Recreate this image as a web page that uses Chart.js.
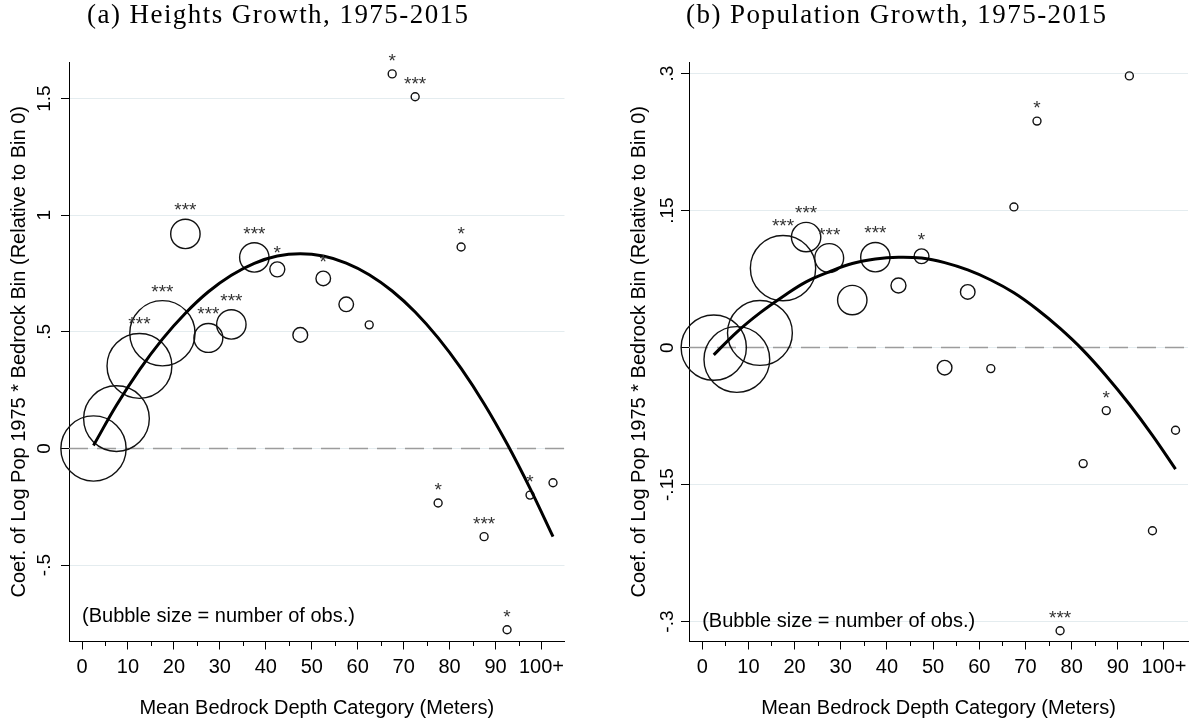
<!DOCTYPE html>
<html lang="en">
<head>
<meta charset="UTF-8">
<title>Bedrock Depth and Growth</title>
<style>
  body { margin: 0; background: #fff; width: 1191px; height: 723px; position: relative; overflow: hidden; }
  .panel { position: absolute; top: 0; height: 723px; }
  .title { position: absolute; top: 1px; font-family: "Liberation Serif", serif; font-size: 27px; line-height: 27px;
           letter-spacing: 1.45px; white-space: nowrap; color: #000; }
</style>
</head>
<body>
<div class="panel" style="left:0;width:600px"><canvas id="heightsChart" width="600" height="723"></canvas></div>
<div class="panel" style="left:600px;width:591px"><canvas id="popChart" width="591" height="723"></canvas></div>
<div class="title" style="left:87px">(a) Heights Growth, 1975-2015</div>
<div class="title" style="left:686px">(b) Population Growth, 1975-2015</div>

<script src="https://cdn.jsdelivr.net/npm/chart.js"></script>
<script>
// bedrock depth bins (bin centres, meters) and number of obs per bin
const bins = [2.5, 7.5, 12.5, 17.5, 22.5, 27.5, 32.5, 37.5, 42.5, 47.5, 52.5,
              57.5, 62.5, 67.5, 72.5, 77.5, 82.5, 87.5, 92.5, 97.5, 102.5];
const binObs = [740, 750, 730, 740, 150, 145, 150, 150, 39, 38, 37,
                37, 11, 11, 11, 11, 11, 11, 11, 11, 11];

const xTicks = [0, 10, 20, 30, 40, 50, 60, 70, 80, 90, 100];
const xTickLabels = ['0', '10', '20', '30', '40', '50', '60', '70', '80', '90', '100+'];
const xMinorTicks = [5, 15, 25, 35, 45, 55, 65, 75, 85, 95];

// (a) heights growth
const heightsCoef = [0, 0.128, 0.354, 0.494, 0.920, 0.474, 0.532, 0.819, 0.768, 0.487, 0.729,
                     0.618, 0.530, 1.606, 1.508, -0.234, 0.864, -0.378, -0.777, -0.200, -0.147];
const heightsStars = ['', '', '***', '***', '***', '***', '***', '***', '*', '', '*',
                      '', '', '*', '***', '*', '*', '***', '*', '*', ''];
const heightsFit = [0.013, 0.185, 0.337, 0.469, 0.580, 0.672, 0.743, 0.794, 0.825, 0.835, 0.825,
                    0.795, 0.745, 0.675, 0.585, 0.474, 0.343, 0.192, 0.020, -0.171, -0.378];
const heightsYTicks = [-0.5, 0, 0.5, 1, 1.5];
const heightsYLabels = ['-.5', '0', '.5', '1', '1.5'];

// (b) population growth
const popCoef = [0, -0.013, 0.016, 0.087, 0.121, 0.098, 0.052, 0.099, 0.068, 0.100, -0.022,
                 0.061, -0.023, 0.154, 0.248, -0.310, -0.127, -0.069, 0.2975, -0.2005, -0.0905];
const popStars = ['', '', '', '***', '***', '***', '', '***', '', '*', '',
                  '', '', '', '*', '***', '', '*', '', '', ''];
const popFit = [-0.008, 0.017, 0.038, 0.056, 0.072, 0.083, 0.092, 0.097, 0.099, 0.098, 0.093,
                0.085, 0.074, 0.060, 0.042, 0.021, -0.003, -0.031, -0.062, -0.096, -0.133];
const popYTicks = [-0.3, -0.15, 0, 0.15, 0.3];
const popYLabels = ['-.3', '-.15', '0', '.15', '.3'];

const noteText = '(Bubble size = number of obs.)';
const fontFamily = '"Liberation Sans", Arial, sans-serif';
Chart.defaults.font.family = fontFamily;

function bubbleRadius(n) {
    return 1.2 * Math.sqrt(n);
}

// zero line, significance stars, note text, minor ticks and x labels
const panelExtras = {
    id: 'panelExtras',
    beforeDatasetsDraw(chart) {
        const { ctx, chartArea: a, scales: { y } } = chart;
        const y0 = y.getPixelForValue(0);
        ctx.save();
        ctx.strokeStyle = '#9c9c9c';
        ctx.lineWidth = 1.5;
        ctx.setLineDash([19, 9]);
        ctx.beginPath();
        ctx.moveTo(a.left, y0);
        ctx.lineTo(a.right, y0);
        ctx.stroke();
        ctx.restore();
    },
    afterDatasetsDraw(chart, args, opts) {
        const { ctx, scales: { x, y } } = chart;
        ctx.save();
        ctx.font = '19px ' + fontFamily;
        ctx.fillStyle = '#333';
        ctx.textAlign = 'center';
        ctx.textBaseline = 'alphabetic';
        opts.stars.forEach((s, i) => {
            if (!s) return;
            const cx = x.getPixelForValue(bins[i]);
            const top = y.getPixelForValue(opts.coef[i]) - bubbleRadius(binObs[i]);
            ctx.fillText(s, cx, top - 14 + 0.575 * 19);
        });
        ctx.font = '20px ' + fontFamily;
        ctx.fillStyle = '#000';
        ctx.textAlign = 'left';
        ctx.textBaseline = 'middle';
        ctx.fillText(noteText, x.getPixelForValue(0), y.getPixelForValue(opts.noteY));
        ctx.restore();
    },
    afterDraw(chart) {
        const { ctx, chartArea: a, scales: { x } } = chart;
        ctx.save();
        ctx.strokeStyle = '#000';
        ctx.lineWidth = 1;
        xMinorTicks.forEach(v => {
            const px = Math.round(x.getPixelForValue(v)) + 0.5;
            ctx.beginPath();
            ctx.moveTo(px, a.bottom);
            ctx.lineTo(px, a.bottom + 4.5);
            ctx.stroke();
        });
        // x tick labels drawn here so "100+" does not squeeze the plot area
        ctx.font = '20px ' + fontFamily;
        ctx.fillStyle = '#000';
        ctx.textAlign = 'center';
        ctx.textBaseline = 'middle';
        xTicks.forEach((v, i) => {
            ctx.fillText(xTickLabels[i], x.getPixelForValue(v), a.bottom + 26);
        });
        ctx.restore();
    }
};

function drawPanel(id, p) {
    new Chart(document.getElementById(id), {
        type: 'bubble',
        data: {
            datasets: [{
                type: 'line',
                data: bins.map((b, i) => ({ x: b, y: p.fit[i] })),
                borderColor: '#000',
                borderWidth: 3,
                pointRadius: 0,
                tension: 0.4,
                fill: false
            }, {
                type: 'bubble',
                data: bins.map((b, i) => ({ x: b, y: p.coef[i], r: bubbleRadius(binObs[i]) })),
                borderColor: '#111',
                borderWidth: 1.4,
                backgroundColor: 'rgba(0,0,0,0)',
                clip: false
            }]
        },
        options: {
            responsive: false,
            animation: false,
            events: [],
            // big bubbles would otherwise add automatic padding round the plot
            layout: { autoPadding: false, padding: { top: 62, right: p.padRight, left: 0, bottom: 0 } },
            plugins: {
                legend: { display: false },
                tooltip: { enabled: false },
                panelExtras: { stars: p.stars, coef: p.coef, noteY: p.noteY }
            },
            scales: {
                x: {
                    type: 'linear',
                    position: 'bottom',
                    min: p.xMin,
                    max: p.xMax,
                    afterBuildTicks: s => { s.ticks = xTicks.map(v => ({ value: v })); },
                    afterFit: s => { s.height = 81.5; },
                    grid: { drawOnChartArea: false, tickLength: 8, tickColor: '#000', tickWidth: 1 },
                    border: { color: '#000', width: 1 },
                    ticks: { display: false },
                    title: {
                        display: true, text: 'Mean Bedrock Depth Category (Meters)', color: '#000',
                        font: { size: 20 }, padding: { top: 0, bottom: 2.6 }
                    }
                },
                y: {
                    type: 'linear',
                    position: 'left',
                    min: p.yMin,
                    max: p.yMax,
                    afterBuildTicks: s => { s.ticks = p.yTicks.map(v => ({ value: v })); },
                    afterFit: s => { s.width = p.axisWidth; s.paddingTop = 0; s.paddingBottom = 0; },
                    grid: { color: '#e4ecef', lineWidth: 1, tickLength: 8, tickColor: '#000' },
                    border: { color: '#000', width: 1 },
                    ticks: {
                        minRotation: 90, maxRotation: 90, crossAlign: 'center', padding: p.tickPad,
                        color: '#000', font: { size: 19 }, autoSkip: false,
                        callback: (v, i) => p.yLabels[i]
                    },
                    title: {
                        display: true, text: 'Coef. of Log Pop 1975 * Bedrock Bin (Relative to Bin 0)',
                        color: '#000', font: { size: 20 }, padding: { top: p.titlePad, bottom: 0 }
                    }
                }
            }
        },
        plugins: [panelExtras]
    });
}

drawPanel('heightsChart', {
    coef: heightsCoef, fit: heightsFit, stars: heightsStars,
    yTicks: heightsYTicks, yLabels: heightsYLabels,
    xMin: -2.83, xMax: 105.0, yMin: -0.8276, yMax: 1.657,
    axisWidth: 69, padRight: 35.5, tickPad: 2.8, titlePad: 7, noteY: -0.72
});

drawPanel('popChart', {
    coef: popCoef, fit: popFit, stars: popStars,
    yTicks: popYTicks, yLabels: popYLabels,
    xMin: -2.86, xMax: 105.2, yMin: -0.3218, yMax: 0.3127,
    axisWidth: 89, padRight: 3, tickPad: -3.4, titlePad: 27, noteY: -0.3
});
</script>
</body>
</html>
